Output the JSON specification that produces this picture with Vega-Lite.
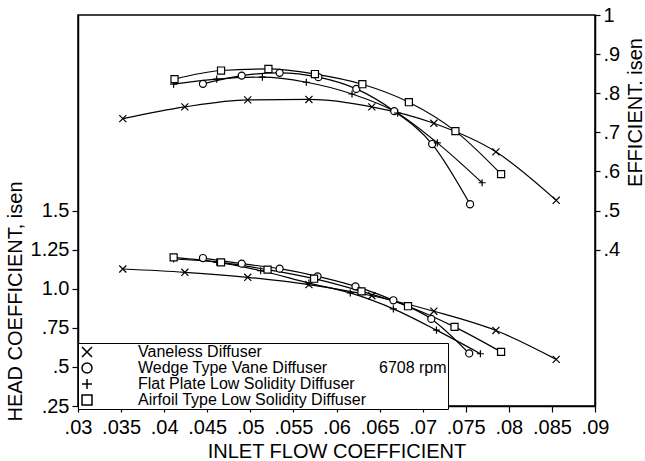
{
  "$schema": "https://vega.github.io/schema/vega-lite/v6.json",
  "width": 517,
  "height": 391,
  "autosize": "none",
  "padding": {"left": 78, "top": 15, "right": 50, "bottom": 55},
  "background": "white",
  "data": {"values": [
    {"series": "Vaneless Diffuser", "kind": "eff", "phi": 0.0352, "v": 0.735},
    {"series": "Vaneless Diffuser", "kind": "eff", "phi": 0.0424, "v": 0.765},
    {"series": "Vaneless Diffuser", "kind": "eff", "phi": 0.0497, "v": 0.783},
    {"series": "Vaneless Diffuser", "kind": "eff", "phi": 0.0568, "v": 0.784},
    {"series": "Vaneless Diffuser", "kind": "eff", "phi": 0.0641, "v": 0.765},
    {"series": "Vaneless Diffuser", "kind": "eff", "phi": 0.0713, "v": 0.723},
    {"series": "Vaneless Diffuser", "kind": "eff", "phi": 0.0785, "v": 0.650},
    {"series": "Vaneless Diffuser", "kind": "eff", "phi": 0.0855, "v": 0.526},
    {"series": "Wedge Type Vane Diffuser", "kind": "eff", "phi": 0.0445, "v": 0.824},
    {"series": "Wedge Type Vane Diffuser", "kind": "eff", "phi": 0.0490, "v": 0.845},
    {"series": "Wedge Type Vane Diffuser", "kind": "eff", "phi": 0.0534, "v": 0.852},
    {"series": "Wedge Type Vane Diffuser", "kind": "eff", "phi": 0.0579, "v": 0.841},
    {"series": "Wedge Type Vane Diffuser", "kind": "eff", "phi": 0.0623, "v": 0.811},
    {"series": "Wedge Type Vane Diffuser", "kind": "eff", "phi": 0.0667, "v": 0.754},
    {"series": "Wedge Type Vane Diffuser", "kind": "eff", "phi": 0.0711, "v": 0.670},
    {"series": "Wedge Type Vane Diffuser", "kind": "eff", "phi": 0.0755, "v": 0.516},
    {"series": "Flat Plate Low Solidity Diffuser", "kind": "eff", "phi": 0.0411, "v": 0.823},
    {"series": "Flat Plate Low Solidity Diffuser", "kind": "eff", "phi": 0.0461, "v": 0.836},
    {"series": "Flat Plate Low Solidity Diffuser", "kind": "eff", "phi": 0.0514, "v": 0.841},
    {"series": "Flat Plate Low Solidity Diffuser", "kind": "eff", "phi": 0.0565, "v": 0.828},
    {"series": "Flat Plate Low Solidity Diffuser", "kind": "eff", "phi": 0.0618, "v": 0.798},
    {"series": "Flat Plate Low Solidity Diffuser", "kind": "eff", "phi": 0.0671, "v": 0.749},
    {"series": "Flat Plate Low Solidity Diffuser", "kind": "eff", "phi": 0.0717, "v": 0.673},
    {"series": "Flat Plate Low Solidity Diffuser", "kind": "eff", "phi": 0.0769, "v": 0.571},
    {"series": "Airfoil Type Low Solidity Diffuser", "kind": "eff", "phi": 0.0412, "v": 0.836},
    {"series": "Airfoil Type Low Solidity Diffuser", "kind": "eff", "phi": 0.0466, "v": 0.858},
    {"series": "Airfoil Type Low Solidity Diffuser", "kind": "eff", "phi": 0.0521, "v": 0.862},
    {"series": "Airfoil Type Low Solidity Diffuser", "kind": "eff", "phi": 0.0575, "v": 0.849},
    {"series": "Airfoil Type Low Solidity Diffuser", "kind": "eff", "phi": 0.0630, "v": 0.823},
    {"series": "Airfoil Type Low Solidity Diffuser", "kind": "eff", "phi": 0.0684, "v": 0.777},
    {"series": "Airfoil Type Low Solidity Diffuser", "kind": "eff", "phi": 0.0738, "v": 0.703},
    {"series": "Airfoil Type Low Solidity Diffuser", "kind": "eff", "phi": 0.0791, "v": 0.593},
    {"series": "Vaneless Diffuser", "kind": "head", "phi": 0.0352, "v": 1.126},
    {"series": "Vaneless Diffuser", "kind": "head", "phi": 0.0424, "v": 1.105},
    {"series": "Vaneless Diffuser", "kind": "head", "phi": 0.0497, "v": 1.073},
    {"series": "Vaneless Diffuser", "kind": "head", "phi": 0.0568, "v": 1.026},
    {"series": "Vaneless Diffuser", "kind": "head", "phi": 0.0641, "v": 0.955},
    {"series": "Vaneless Diffuser", "kind": "head", "phi": 0.0713, "v": 0.856},
    {"series": "Vaneless Diffuser", "kind": "head", "phi": 0.0785, "v": 0.733},
    {"series": "Vaneless Diffuser", "kind": "head", "phi": 0.0855, "v": 0.548},
    {"series": "Wedge Type Vane Diffuser", "kind": "head", "phi": 0.0445, "v": 1.196},
    {"series": "Wedge Type Vane Diffuser", "kind": "head", "phi": 0.0490, "v": 1.160},
    {"series": "Wedge Type Vane Diffuser", "kind": "head", "phi": 0.0534, "v": 1.128},
    {"series": "Wedge Type Vane Diffuser", "kind": "head", "phi": 0.0578, "v": 1.079},
    {"series": "Wedge Type Vane Diffuser", "kind": "head", "phi": 0.0622, "v": 1.015},
    {"series": "Wedge Type Vane Diffuser", "kind": "head", "phi": 0.0666, "v": 0.926},
    {"series": "Wedge Type Vane Diffuser", "kind": "head", "phi": 0.0710, "v": 0.807},
    {"series": "Wedge Type Vane Diffuser", "kind": "head", "phi": 0.0754, "v": 0.586},
    {"series": "Flat Plate Low Solidity Diffuser", "kind": "head", "phi": 0.0411, "v": 1.190},
    {"series": "Flat Plate Low Solidity Diffuser", "kind": "head", "phi": 0.0461, "v": 1.170},
    {"series": "Flat Plate Low Solidity Diffuser", "kind": "head", "phi": 0.0512, "v": 1.115},
    {"series": "Flat Plate Low Solidity Diffuser", "kind": "head", "phi": 0.0568, "v": 1.036},
    {"series": "Flat Plate Low Solidity Diffuser", "kind": "head", "phi": 0.0616, "v": 0.973},
    {"series": "Flat Plate Low Solidity Diffuser", "kind": "head", "phi": 0.0666, "v": 0.871},
    {"series": "Flat Plate Low Solidity Diffuser", "kind": "head", "phi": 0.0716, "v": 0.735},
    {"series": "Flat Plate Low Solidity Diffuser", "kind": "head", "phi": 0.0767, "v": 0.584},
    {"series": "Airfoil Type Low Solidity Diffuser", "kind": "head", "phi": 0.0411, "v": 1.200},
    {"series": "Airfoil Type Low Solidity Diffuser", "kind": "head", "phi": 0.0466, "v": 1.168},
    {"series": "Airfoil Type Low Solidity Diffuser", "kind": "head", "phi": 0.0520, "v": 1.122},
    {"series": "Airfoil Type Low Solidity Diffuser", "kind": "head", "phi": 0.0574, "v": 1.064},
    {"series": "Airfoil Type Low Solidity Diffuser", "kind": "head", "phi": 0.0629, "v": 0.983},
    {"series": "Airfoil Type Low Solidity Diffuser", "kind": "head", "phi": 0.0683, "v": 0.888},
    {"series": "Airfoil Type Low Solidity Diffuser", "kind": "head", "phi": 0.0737, "v": 0.756},
    {"series": "Airfoil Type Low Solidity Diffuser", "kind": "head", "phi": 0.0791, "v": 0.596}
  ]},
  "encoding": {
    "x": {
      "field": "phi", "type": "quantitative",
      "scale": {"domain": [0.03, 0.09], "nice": false, "zero": false},
      "axis": {
        "values": [0.03, 0.035, 0.04, 0.045, 0.05, 0.055, 0.06, 0.065, 0.07, 0.075, 0.08, 0.085, 0.09],
        "labelExpr": "substring(format(datum.value, '.3~f'), 1)",
        "tickSize": 6, "labelPadding": 5,
        "title": "INLET FLOW COEFFICIENT", "titlePadding": 4
      }
    }
  },
  "layer": [
    {
      "transform": [{"filter": "datum.kind === 'head'"}],
      "encoding": {
        "y": {
          "field": "v", "type": "quantitative",
          "scale": {"domain": [0.25, 2.75], "nice": false, "zero": false},
          "axis": {
            "orient": "left",
            "values": [0.25, 0.5, 0.75, 1, 1.25, 1.5],
            "labelExpr": "datum.value < 1 ? substring(format(datum.value, '.2~f'), 1) : (datum.value == 1 ? '1.0' : format(datum.value, '.2~f'))",
            "tickSize": 6, "labelPadding": 3,
            "title": "HEAD COEFFICIENT, isen",
            "titleAngle": 270, "titleX": -53, "titleY": 286, "titleBaseline": "bottom", "titleAlign": "center"
          }
        }
      },
      "layer": [
        {
          "mark": {"type": "line", "interpolate": "monotone", "color": "black", "strokeWidth": 1.2},
          "encoding": {"detail": {"field": "series"}, "order": {"field": "phi"}}
        },
        {
          "mark": {"type": "point", "filled": false, "fill": "white", "stroke": "black", "strokeWidth": 1.2, "opacity": 1, "size": 50},
          "encoding": {
            "shape": {
              "field": "series", "type": "nominal",
              "scale": {
                "domain": ["Vaneless Diffuser", "Wedge Type Vane Diffuser", "Flat Plate Low Solidity Diffuser", "Airfoil Type Low Solidity Diffuser"],
                "range": ["M-1,-1L1,1M-1,1L1,-1", "circle", "M-1,0L1,0M0,-1L0,1", "square"]
              },
              "legend": {
                "orient": "none", "legendX": 0, "legendY": 328,
                "title": "6708 rpm", "titleOrient": "right", "titleAnchor": "middle", "titleBaseline": "bottom",
                "titleFontSize": 16, "titleFontWeight": "normal", "titleFont": "Liberation Sans", "titleColor": "black", "titlePadding": 13,
                "labelFontSize": 16, "labelFont": "Liberation Sans", "labelColor": "black", "labelLimit": 400, "labelOffset": 43,
                "strokeColor": "black", "fillColor": "white", "padding": 1, "rowPadding": 0, "cornerRadius": 0,
                "encode": {
                  "symbols": {
                    "stroke": {"value": "black"},
                    "fill": {"value": "white"},
                    "strokeWidth": {"value": 1.2}
                  }
                }
              }
            }
          }
        }
      ]
    },
    {
      "transform": [{"filter": "datum.kind === 'eff'"}],
      "encoding": {
        "y": {
          "field": "v", "type": "quantitative",
          "scale": {"domain": [0, 1], "nice": false, "zero": false},
          "axis": {
            "orient": "right",
            "values": [0.4, 0.5, 0.6, 0.7, 0.8, 0.9, 1],
            "labelExpr": "datum.value == 1 ? '1' : substring(format(datum.value, '.1f'), 1)",
            "tickSize": 5, "labelPadding": 3,
            "title": "EFFICIENT. isen",
            "titleAngle": 270, "titleX": 50, "titleY": 97, "titleBaseline": "bottom", "titleAlign": "center"
          }
        }
      },
      "layer": [
        {
          "mark": {"type": "line", "interpolate": "monotone", "color": "black", "strokeWidth": 1.2},
          "encoding": {"detail": {"field": "series"}, "order": {"field": "phi"}}
        },
        {
          "mark": {"type": "point", "filled": false, "fill": "white", "stroke": "black", "strokeWidth": 1.2, "opacity": 1, "size": 50},
          "encoding": {"shape": {"field": "series", "type": "nominal"}}
        }
      ]
    }
  ],
  "resolve": {"scale": {"y": "independent"}},
  "config": {
    "font": "Liberation Sans",
    "view": {"stroke": "black", "strokeWidth": 1.5},
    "axis": {
      "grid": false, "domainColor": "black", "domainWidth": 1.5, "tickColor": "black", "tickWidth": 1.2,
      "labelColor": "black", "titleColor": "black",
      "labelFont": "Liberation Sans", "titleFont": "Liberation Sans",
      "labelFontSize": 20, "titleFontSize": 20, "titleFontWeight": "normal",
      "labelOverlap": false, "labelFlush": false, "labelBound": false
    }
  }
}
